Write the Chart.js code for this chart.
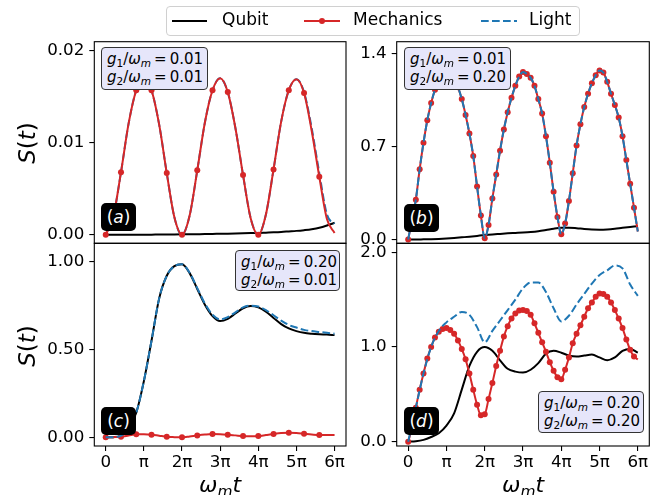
<!DOCTYPE html>
<html>
<head>
<meta charset="utf-8">
<script src="https://cdn.jsdelivr.net/npm/chart.js@4.4.0/dist/chart.umd.min.js"></script>
<style>
  body { margin: 0; background: #fff; font-family: "DejaVu Sans", sans-serif; }
  #fig { position: relative; width: 658px; height: 495px; overflow: hidden; }
  canvas { position: absolute; }
  .note { position: absolute; box-sizing: border-box; background: #e6e6fa; border: 1px solid #333;
          border-radius: 4px; font-size: 15px; line-height: 17px; padding: 3px 0 0 5px; white-space: nowrap; }
  .note sub, .ylab sub, .xlab sub { font-size: 0.7em; vertical-align: baseline; position: relative; top: 0.3em; }
  .tag { position: absolute; background: #000; color: #fff; border-radius: 5px; width: 35px; height: 28px;
         line-height: 28px; text-align: center; font-size: 17px; }
  .ylab { position: absolute; font-size: 23px; transform: translate(-50%, -50%) rotate(-90deg); white-space: nowrap; }
  .xlab { position: absolute; font-size: 22px; transform: translate(-50%, -50%); white-space: nowrap; }
  .leg { position: absolute; left: 166px; top: 6px; width: 414px; height: 30px; box-sizing: border-box;
         border: 1px solid #d0d0d0; border-radius: 4px; }
  .legtxt { position: absolute; top: 9px; font-size: 17px; line-height: 20px; }
  svg { position: absolute; }
</style>
</head>
<body>
<div id="fig">
  <canvas id="pa" width="352" height="220" style="left:0px;top:30px"></canvas>
  <canvas id="pb" width="318" height="220" style="left:340px;top:30px"></canvas>
  <canvas id="pc" width="352" height="262" style="left:0px;top:233px"></canvas>
  <canvas id="pd" width="318" height="262" style="left:340px;top:233px"></canvas>

  <div class="leg"></div>
  <svg style="left:170px;top:10px" width="40" height="22"><line x1="2" y1="11" x2="37" y2="11" stroke="#000" stroke-width="2"/></svg>
  <span class="legtxt" style="left:222px">Qubit</span>
  <svg style="left:302px;top:10px" width="40" height="22"><line x1="2" y1="11" x2="38" y2="11" stroke="#d62728" stroke-width="2"/><circle cx="20" cy="11" r="3" fill="#d62728"/></svg>
  <span class="legtxt" style="left:353px">Mechanics</span>
  <svg style="left:479px;top:10px" width="40" height="22"><line x1="2" y1="11" x2="38" y2="11" stroke="#1f77b4" stroke-width="2" stroke-dasharray="7.7,3.3"/></svg>
  <span class="legtxt" style="left:529px">Light</span>

  <div class="note" style="left:101px;top:47px;width:107px;height:43px"><i>g</i><sub>1</sub>/<i>ω</i><sub><i>m</i></sub>&thinsp;=&thinsp;0.01<br><i>g</i><sub>2</sub>/<i>ω</i><sub><i>m</i></sub>&thinsp;=&thinsp;0.01</div>
  <div class="note" style="left:404px;top:47px;width:107px;height:43px"><i>g</i><sub>1</sub>/<i>ω</i><sub><i>m</i></sub>&thinsp;=&thinsp;0.01<br><i>g</i><sub>2</sub>/<i>ω</i><sub><i>m</i></sub>&thinsp;=&thinsp;0.20</div>
  <div class="note" style="left:235px;top:250px;width:105px;height:41px"><i>g</i><sub>1</sub>/<i>ω</i><sub><i>m</i></sub>&thinsp;=&thinsp;0.20<br><i>g</i><sub>2</sub>/<i>ω</i><sub><i>m</i></sub>&thinsp;=&thinsp;0.01</div>
  <div class="note" style="left:538px;top:391px;width:106px;height:42px"><i>g</i><sub>1</sub>/<i>ω</i><sub><i>m</i></sub>&thinsp;=&thinsp;0.20<br><i>g</i><sub>2</sub>/<i>ω</i><sub><i>m</i></sub>&thinsp;=&thinsp;0.20</div>

  <div class="tag" style="left:101px;top:203px">(<i>a</i>)</div>
  <div class="tag" style="left:404px;top:204px">(<i>b</i>)</div>
  <div class="tag" style="left:101px;top:407px">(<i>c</i>)</div>
  <div class="tag" style="left:404px;top:407px">(<i>d</i>)</div>

  <div class="ylab" style="left:27px;top:143px"><i>S</i>(<i>t</i>)</div>
  <div class="ylab" style="left:27px;top:346px"><i>S</i>(<i>t</i>)</div>
  <div class="xlab" style="left:220px;top:484px"><i>ω</i><sub><i>m</i></sub><i>t</i></div>
  <div class="xlab" style="left:523px;top:484px"><i>ω</i><sub><i>m</i></sub><i>t</i></div>
</div>

<script>
// time axis in units of pi
const tCoarse = [0,0.2,0.4,0.6,0.8,1,1.2,1.4,1.6,1.8,2,2.2,2.4,2.6,2.8,3,3.2,3.4,3.6,3.8,4,4.2,4.4,4.6,4.8,5,5.2,5.4,5.6,5.8,6];
const tFine = [0,0.1,0.2,0.3,0.4,0.5,0.6,0.7,0.8,0.9,1,1.1,1.2,1.3,1.4,1.5,1.6,1.7,1.8,1.9,2,
               2.1,2.2,2.3,2.4,2.5,2.6,2.7,2.8,2.9,3,3.1,3.2,3.3,3.4,3.5,3.6,3.7,3.8,3.9,4,
               4.1,4.2,4.3,4.4,4.5,4.6,4.7,4.8,4.9,5,5.1,5.2,5.3,5.4,5.5,5.6,5.7,5.8,5.9,6];
const xTicks = [0,1,2,3,4,5,6];
const xTickLabels = ['0','π','2π','3π','4π','5π','6π'];

// (a) g1 = 0.01, g2 = 0.01
const qubitA = [0,0,0,0,0,0.00001,0.00001,0.00002,0.00002,0.00003,0.00004,0.00005,0.00006,0.00007,0.00009,0.0001,
                0.00012,0.00014,0.00016,0.00018,0.0002,0.00023,0.00026,0.0003,0.00036,0.00042,0.0005,0.0006,0.00075,0.001,0.0013];
const mechA = [0,0.0020,0.0068,0.0121,0.0157,0.0171,0.0157,0.0120,0.0067,0.0019,0,0.0021,0.0070,0.0122,0.0157,0.0170,
               0.0155,0.0116,0.0065,0.0018,0,0.0022,0.0071,0.0123,0.0157,0.0169,0.0154,0.0113,0.0063,0.0017,0.0002];
const lightA = [0,0.0020,0.0068,0.0121,0.0157,0.0171,0.0157,0.0120,0.0067,0.0019,0,0.0021,0.0070,0.0122,0.0157,0.0170,
                0.0155,0.0116,0.0065,0.0018,0,0.0022,0.0071,0.0123,0.0157,0.0169,0.0155,0.0116,0.0067,0.0022,0.0012];
const yTicksA = [0,0.01,0.02];

// (b) g1 = 0.01, g2 = 0.20
const qubitB = [0,0,0.001,0.002,0.004,0.007,0.011,0.016,0.021,0.027,0.033,0.038,0.042,0.046,0.049,0.052,
                0.056,0.062,0.071,0.081,0.088,0.089,0.085,0.079,0.075,0.074,0.076,0.081,0.088,0.094,0.1];
const mechB = [0,0.15,0.30,0.53,0.73,0.90,1.03,1.13,1.20,1.25,1.27,1.25,1.21,1.15,1.06,0.94,0.80,0.63,0.40,0.18,0.01,
               0.11,0.31,0.49,0.67,0.83,0.96,1.07,1.16,1.23,1.265,1.25,1.22,1.16,1.06,0.95,0.78,0.58,0.36,0.17,0.04,
               0.12,0.29,0.50,0.71,0.87,1.00,1.10,1.18,1.24,1.275,1.26,1.19,1.10,1.015,0.92,0.78,0.60,0.42,0.24,0.06];
const lightB = [0,0.15,0.30,0.53,0.73,0.90,1.03,1.13,1.20,1.25,1.27,1.25,1.21,1.15,1.06,0.94,0.80,0.63,0.40,0.18,0.01,
                0.11,0.31,0.49,0.67,0.83,0.96,1.07,1.16,1.23,1.265,1.25,1.22,1.16,1.06,0.95,0.78,0.58,0.36,0.17,0.04,
                0.12,0.29,0.50,0.71,0.87,1.00,1.10,1.18,1.24,1.275,1.26,1.19,1.10,1.015,0.92,0.78,0.60,0.42,0.24,0.06];
const yTicksB = [0,0.7,1.4];

// (c) g1 = 0.20, g2 = 0.01
const qubitC = [0,0.001,0.01,0.05,0.14,0.32,0.55,0.79,0.92,0.975,0.985,0.935,0.845,0.755,0.69,0.662,
                0.675,0.705,0.735,0.748,0.74,0.715,0.68,0.645,0.62,0.605,0.595,0.59,0.587,0.585,0.582];
const mechC = [0,0.001,0.003,0.01,0.017,0.017,0.015,0.009,0.003,0.001,0,0.005,0.011,0.016,0.019,0.018,
               0.015,0.011,0.007,0.006,0.007,0.013,0.019,0.024,0.026,0.024,0.02,0.016,0.013,0.013,0.013];
const lightC = [0,0.001,0.01,0.05,0.14,0.32,0.55,0.79,0.92,0.975,0.985,0.937,0.85,0.762,0.698,0.672,
                0.685,0.712,0.74,0.75,0.745,0.725,0.695,0.665,0.64,0.625,0.612,0.605,0.6,0.595,0.59];
const yTicksC = [0,0.5,1.0];

// (d) g1 = 0.20, g2 = 0.20
const qubitD = [0,0.005,0.02,0.05,0.09,0.17,0.30,0.55,0.80,0.95,1.0,0.96,0.86,0.77,0.74,0.73,
                0.76,0.83,0.93,0.96,0.94,0.91,0.90,0.91,0.92,0.89,0.86,0.89,0.96,0.98,0.94];
const mechD = [0,0.15,0.36,0.55,0.72,0.88,1.0,1.10,1.16,1.19,1.20,1.18,1.14,1.07,0.98,0.87,0.72,0.55,0.39,0.28,0.29,
               0.45,0.62,0.80,0.96,1.11,1.22,1.30,1.355,1.385,1.39,1.38,1.34,1.25,1.15,1.05,0.95,0.84,0.75,0.68,0.66,
               0.76,0.89,1.04,1.14,1.23,1.32,1.41,1.47,1.53,1.565,1.56,1.53,1.47,1.39,1.30,1.20,1.08,0.97,0.90,0.87];
const lightD = [0,0.36,0.72,1.0,1.17,1.26,1.32,1.37,1.34,1.21,1.05,1.17,1.28,1.39,1.50,1.62,
                1.68,1.68,1.58,1.41,1.27,1.33,1.45,1.56,1.67,1.76,1.81,1.86,1.83,1.66,1.54];
const yTicksD = [0,1.0,2.0];

const RED = '#d62728', BLUE = '#1f77b4';
const tickFont = { family: 'DejaVu Sans', size: 16.7 };

const framePlugin = {
  id: 'frame',
  afterDraw(chart) {
    const a = chart.chartArea, ctx = chart.ctx;
    ctx.save();
    ctx.strokeStyle = '#000';
    ctx.lineWidth = 1.1;
    ctx.strokeRect(a.left, a.top, a.right - a.left, a.bottom - a.top);
    ctx.restore();
  }
};

function pts(t, v) {
  return t.map((x, i) => ({ x: x, y: v[i] }));
}

function panel(id, p) {
  new Chart(document.getElementById(id), {
    type: 'line',
    data: {
      datasets: [
        { label: 'Light', data: pts(p.tl, p.light), borderColor: BLUE, borderWidth: 2, borderDash: [7.7, 3.3],
          pointRadius: 0, cubicInterpolationMode: 'monotone', order: p.lightOrder },
        { label: 'Mechanics', data: pts(p.tm, p.mech), borderColor: RED, borderWidth: 2,
          pointBackgroundColor: RED, pointBorderWidth: 0,
          pointRadius: ctx => (ctx.dataIndex % p.every === 0 && ctx.dataIndex < p.tm.length - 1) ? 3 : 0,
          cubicInterpolationMode: 'monotone', order: p.mechOrder },
        { label: 'Qubit', data: pts(p.tq, p.qubit), borderColor: '#000', borderWidth: 2,
          pointRadius: 0, cubicInterpolationMode: 'monotone', order: 3 }
      ]
    },
    options: {
      responsive: false,
      animation: false,
      devicePixelRatio: 1,
      layout: { padding: p.pad },
      plugins: { legend: { display: false }, tooltip: { enabled: false } },
      scales: {
        x: {
          type: 'linear', min: -0.3, max: 6.3, display: p.showX,
          afterBuildTicks: s => { s.ticks = xTicks.map(v => ({ value: v })); },
          ticks: { callback: (v, i) => xTickLabels[i], font: tickFont, color: '#000', padding: 2,
                   maxRotation: 0, autoSkip: false },
          grid: { drawOnChartArea: false, tickLength: 5, color: '#000', lineWidth: 1.1 },
          border: { display: false },
          afterFit: s => { if (p.showX) s.height = p.xh; s.paddingLeft = 0; s.paddingRight = 0; }
        },
        y: {
          type: 'linear', min: p.ymin, max: p.ymax,
          afterBuildTicks: s => { s.ticks = p.yticks.map(v => ({ value: v })); },
          ticks: { callback: v => v.toFixed(p.dec), font: tickFont, color: '#000', padding: 5 },
          grid: { drawOnChartArea: false, tickLength: 5, color: '#000', lineWidth: 1.1 },
          border: { display: false },
          afterFit: s => { s.width = p.yw; s.paddingTop = 0; s.paddingBottom = 0; }
        }
      }
    },
    plugins: [framePlugin]
  });
}

panel('pa', { tq: tCoarse, qubit: qubitA, tm: tCoarse, mech: mechA, tl: tCoarse, light: lightA, every: 2,
              lightOrder: 2, mechOrder: 1,
              ymin: -0.00093, ymax: 0.02098, yticks: yTicksA, dec: 2, showX: false,
              yw: 94.3, pad: { left: 0, top: 11.7, right: 6, bottom: 6.7 } });
panel('pb', { tq: tCoarse, qubit: qubitB, tm: tFine, mech: mechB, tl: tFine, light: lightB, every: 1,
              lightOrder: 1, mechOrder: 2,
              ymin: -0.029, ymax: 1.493, yticks: yTicksB, dec: 1, showX: false,
              yw: 56.7, pad: { left: 0, top: 11.7, right: 8.7, bottom: 6.7 } });
panel('pc', { tq: tCoarse, qubit: qubitC, tm: tCoarse, mech: mechC, tl: tCoarse, light: lightC, every: 2,
              lightOrder: 1, mechOrder: 2,
              ymin: -0.0495, ymax: 1.105, yticks: yTicksC, dec: 2, showX: true, xh: 49,
              yw: 94.3, pad: { left: 0, top: 10.3, right: 6, bottom: 0 } });
panel('pd', { tq: tCoarse, qubit: qubitD, tm: tFine, mech: mechD, tl: tCoarse, light: lightD, every: 1,
              lightOrder: 1, mechOrder: 2,
              ymin: -0.045, ymax: 2.095, yticks: yTicksD, dec: 1, showX: true, xh: 49,
              yw: 56.7, pad: { left: 0, top: 10.3, right: 8.7, bottom: 0 } });
</script>
</body>
</html>
